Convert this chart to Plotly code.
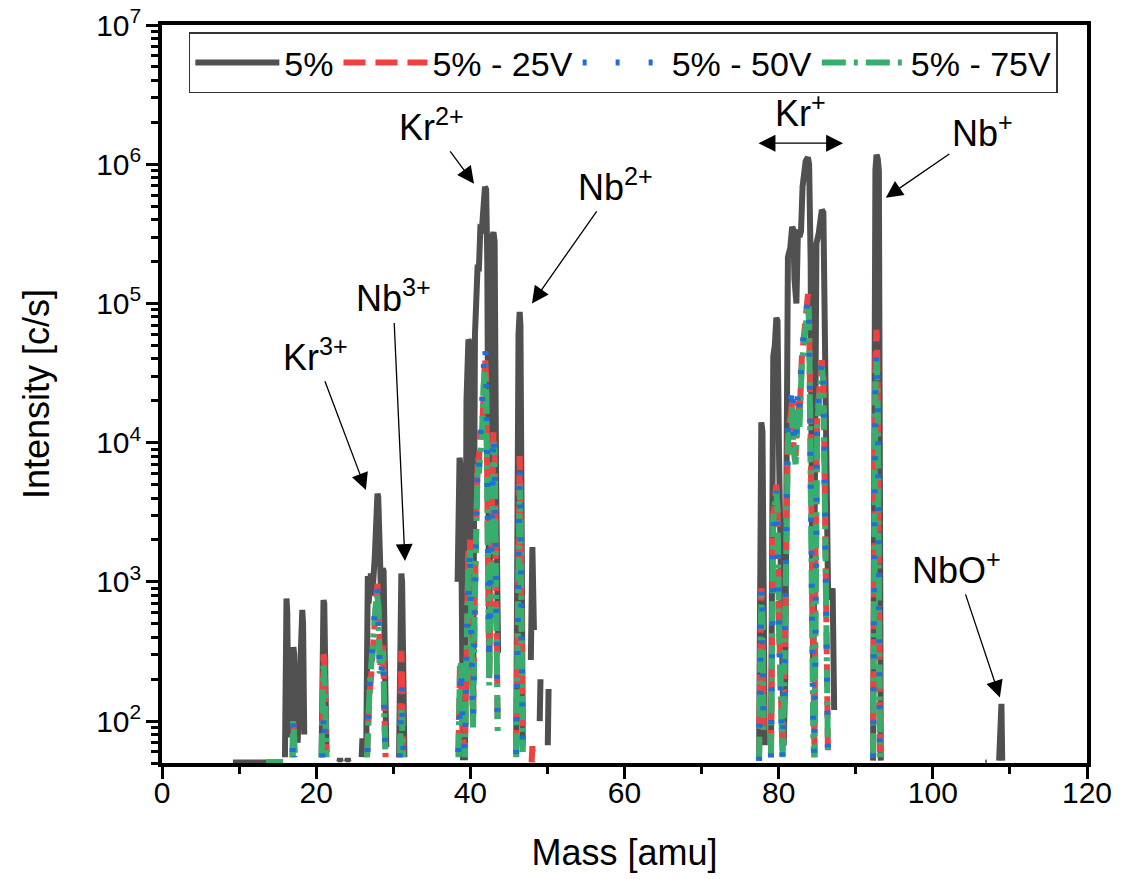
import plotly.graph_objects as go
import math

# ---------------- data ----------------
# 5 % (no bias): mass [amu] and intensity [c/s]; None = zero count (line break on log axis)
mass_5 = [9.2, 15.7, 15.75,
          15.95, 16.05, 16.15, 16.25, 16.4, 16.85, 16.95, 17.05, 17.15, 17.3, 17.6, 18.0, 18.1, 18.2, 18.3, 18.45, 18.5,
          20.7, 20.85, 20.95, 21.05, 21.2, 21.35, 21.4,
          23.0, 23.1, 23.2, 23.25, 24.0, 24.1, 24.2, 24.25,
          25.9, 26.0, 26.1, 26.5, 26.6, 26.7, 26.8, 27.0, 27.1, 27.2, 27.35, 27.6, 27.8, 27.95, 28.05, 28.2, 28.45,
          28.65, 28.75, 28.9, 29.1, 29.15,
          30.75, 30.85, 30.95, 31.05, 31.15, 31.3, 31.45, 31.5,
          38.35, 38.5, 38.6, 38.7, 38.85, 39.05, 39.3, 39.5, 39.75, 39.95, 40.1, 40.35, 40.6, 40.8, 40.95, 41.1,
          41.3, 41.5, 41.7, 41.9, 42.05, 42.2, 42.45, 42.65, 42.85, 43.0, 43.15, 43.35, 43.6, 43.65,
          45.95, 46.1, 46.25, 46.4, 46.5, 46.65, 46.8, 46.85,
          47.85, 47.95, 48.05, 48.15, 48.25, 48.3, 49.0, 49.1, 49.15, 50.05, 50.15, 50.2,
          77.45, 77.6, 77.75, 77.9, 78.05, 78.2, 78.25,
          79.0, 79.15, 79.3, 79.5, 79.7, 79.85, 80.05, 80.3, 80.5, 80.65, 80.85, 81.0, 81.2, 81.5, 81.75, 81.9,
          82.05, 82.3, 82.5, 82.7, 82.9, 83.1, 83.5, 83.8, 83.95, 84.15, 84.35, 84.5, 84.7, 84.9, 85.2, 85.6,
          85.8, 86.0, 86.2, 86.4, 86.7, 87.0, 87.2, 87.25,
          92.25, 92.4, 92.55, 92.7, 92.85, 93.0, 93.15, 93.25, 93.3,
          106.8, 107.0, 107.05,
          108.6, 108.7, 108.75, 108.9, 109.0]
int_5 = [50.5, 50.5, None,
         55, 600, 760, 600, 80, 80, 300, 340, 300, 90, 70, 300, 600, 630, 500, 80, None,
         55, 500, 740, 700, 200, 60, None,
         51, 54, 51, None, 51, 54, 51, None,
         55, 75, 60, 66, 900, 1100, 700, 1100, 1150, 800, 900, 1500, 3500, 4300, 4100, 1500, 700,
         1250, 1200, 300, 65, None,
         55, 800, 950, 1150, 1000, 150, 55, None,
         1000, 6500, 7800, 7000, 1500, 55, 55, 20000, 55000, 52000, 8000, 100, 60000, 183000, 190000, 170000,
         345000, 340000, 500000, 690000, 660000, 200000, 310, 200000, 300000, 325000, 280000, 5000, 310, None,
         67, 5000, 60000, 87000, 70000, 3000, 70, None,
         275, 1500, 1780, 900, 450, None, 100, 200, None, 67, 170, None,
         52, 6000, 14000, 12000, 1000, 67, None,
         55, 15000, 42000, 50000, 79000, 75000, 8000, 1000, 270, 67, 200, 8000, 215000, 250000, 355000, 340000,
         150000, 100000, 340000, 300000, 330000, 690000, 1050000, 1120000, 1000000, 200000, 1000, 200, 5000, 270000, 320000, 470000,
         450000, 60000, 2000, 900, 750, 900, 120, None,
         52, 700000, 910000, 1170000, 1100000, 900000, 1000, 52, None,
         50.5, 50.5, None,
         52, 100, 133, 133, 52]

# 5 % - 25 V
mass_25 = [13.5, 15.7, 15.75,
           16.95, 17.05, 17.15, 17.2,
           20.75, 20.85, 20.95, 21.05, 21.15, 21.3, 21.35,
           26.6, 26.7, 26.9, 27.1, 27.35, 27.6, 27.85, 27.95, 28.05, 28.3, 28.6, 28.7, 28.85, 29.0, 29.05,
           30.85, 30.95, 31.05, 31.15, 31.3, 31.35,
           38.45, 38.55, 38.65, 38.8, 39.0, 39.3, 39.5, 39.75, 39.95, 40.1, 40.35, 40.6, 40.8, 40.95, 41.1, 41.3,
           41.5, 41.7, 41.9, 42.05, 42.2, 42.45, 42.65, 42.85, 43.0, 43.15, 43.35, 43.55, 43.6,
           45.95, 46.1, 46.25, 46.4, 46.5, 46.65, 46.8, 46.85,
           47.95, 48.05, 48.15, 48.2,
           77.45, 77.6, 77.75, 77.9, 78.05, 78.1,
           79.0, 79.15, 79.3, 79.7, 79.85, 80.05, 80.3, 80.5, 80.7, 80.95, 81.2, 81.5, 81.75, 81.9, 82.2, 82.5,
           82.7, 83.0, 83.4, 83.8, 83.95, 84.15, 84.35, 84.5, 84.65, 84.8, 85.0, 85.3, 85.6, 85.8, 86.0, 86.2,
           86.4, 86.45,
           92.25, 92.4, 92.55, 92.7, 92.85, 93.0, 93.15, 93.2]
int_25 = [50.5, 50.5, None,
          55, 100, 60, None,
          55, 200, 300, 290, 150, 60, None,
          55, 130, 150, 200, 300, 450, 800, 970, 700, 250, 300, 350, 120, 55, None,
          55, 200, 320, 200, 60, None,
          60, 200, 250, 200, 80, 60, 400, 1800, 2000, 600, 100, 900, 6000, 8000, 7000, 12000,
          11000, 28000, 41000, 30000, 2000, 200, 1000, 8000, 12000, 9000, 800, 90, None,
          60, 600, 6000, 8000, 4000, 500, 65, None,
          50.5, 66, 50.5, None,
          52, 500, 900, 600, 90, None,
          60, 1500, 3000, 5000, 3500, 500, 100, 60, 150, 3000, 12000, 15000, 20000, 10000, 8000, 20000,
          15000, 40000, 70000, 117000, 80000, 5000, 300, 80, 55, 2000, 15000, 25000, 39000, 30000, 2000, 100,
          55, None,
          55, 5000, 40000, 65000, 30000, 1000, 60, None]

# 5 % - 50 V
mass_50 = [16.95, 17.05, 17.15, 17.2,
           20.8, 20.9, 21.0, 21.1, 21.25, 21.3,
           26.65, 26.8, 27.0, 27.3, 27.55, 27.8, 27.95, 28.05, 28.3, 28.55, 28.7, 28.85, 29.0, 29.05,
           30.85, 31.0, 31.1, 31.2, 31.35, 31.4,
           38.45, 38.55, 38.65, 38.8, 39.0, 39.3, 39.5, 39.75, 39.95, 40.1, 40.35, 40.6, 40.8, 40.95, 41.1, 41.3,
           41.5, 41.7, 41.9, 42.05, 42.2, 42.45, 42.65, 42.85, 43.0, 43.15, 43.35, 43.55, 43.6,
           45.95, 46.1, 46.25, 46.4, 46.5, 46.65, 46.8, 46.85,
           77.45, 77.6, 77.75, 77.9, 78.05, 78.1,
           79.0, 79.15, 79.3, 79.7, 79.85, 80.05, 80.3, 80.5, 80.7, 80.95, 81.2, 81.5, 81.75, 81.9, 82.2, 82.5,
           82.7, 83.0, 83.4, 83.8, 83.95, 84.15, 84.35, 84.5, 84.65, 84.8, 85.0, 85.3, 85.6, 85.8, 86.0, 86.2,
           86.4, 86.45,
           92.25, 92.4, 92.55, 92.7, 92.85, 93.0, 93.15, 93.2]
int_50 = [60, 100, 55, None,
          55, 100, 120, 90, 60, None,
          60, 150, 250, 350, 700, 900, 850, 600, 200, 250, 300, 100, 55, None,
          55, 150, 180, 100, 55, None,
          60, 150, 220, 250, 90, 60, 350, 1500, 1800, 500, 100, 800, 5000, 7500, 6500, 12000,
          15000, 35000, 52000, 35000, 2500, 250, 1200, 9000, 12000, 8000, 700, 80, None,
          58, 500, 5000, 7000, 3500, 400, 60, None,
          52, 450, 950, 550, 80, None,
          55, 1200, 2500, 4500, 3000, 450, 90, 55, 140, 3500, 14000, 18000, 27000, 12000, 9000, 25000,
          18000, 45000, 75000, 110000, 75000, 4000, 250, 70, 55, 2500, 16000, 28000, 40000, 30000, 1800, 90,
          55, None,
          55, 4000, 30000, 45000, 25000, 800, 55, None]

# 5 % - 75 V
mass_75 = [13.5, 15.7, 15.75,
           16.9, 17.0, 17.1, 17.25, 17.3,
           20.7, 20.85, 20.95, 21.05, 21.2, 21.35, 21.4,
           26.6, 26.75, 26.95, 27.2, 27.45, 27.75, 27.9, 28.05, 28.25, 28.55, 28.7, 28.85, 29.0, 29.05,
           30.85, 30.95, 31.05, 31.15, 31.3, 31.35,
           38.45, 38.55, 38.65, 38.8, 39.0, 39.3, 39.5, 39.75, 39.95, 40.1, 40.35, 40.6, 40.8, 40.95, 41.1, 41.3,
           41.5, 41.7, 41.9, 42.05, 42.2, 42.45, 42.65, 42.85, 43.0, 43.15, 43.35, 43.55, 43.6,
           45.95, 46.1, 46.25, 46.4, 46.5, 46.65, 46.8, 46.85,
           77.45, 77.6, 77.75, 77.9, 78.05, 78.1,
           79.0, 79.15, 79.3, 79.7, 79.85, 80.05, 80.3, 80.5, 80.7, 80.95, 81.2, 81.5, 81.75, 81.9, 82.2, 82.5,
           82.7, 83.0, 83.4, 83.8, 83.95, 84.15, 84.35, 84.5, 84.65, 84.8, 85.0, 85.3, 85.6, 85.8, 86.0, 86.2,
           86.4, 86.45,
           92.25, 92.4, 92.55, 92.7, 92.85, 93.0, 93.15, 93.2]
int_75 = [50.5, 50.5, None,
          55, 100, 90, 55, None,
          55, 150, 250, 230, 120, 55, None,
          55, 110, 180, 280, 400, 750, 900, 650, 220, 280, 320, 100, 55, None,
          55, 90, 120, 90, 55, None,
          55, 180, 230, 260, 90, 55, 350, 1600, 1700, 500, 90, 800, 5000, 7000, 6000, 9000,
          11000, 25000, 33000, 25000, 1800, 180, 900, 7000, 10000, 8000, 700, 80, None,
          55, 500, 4000, 5000, 3000, 400, 60, None,
          52, 400, 800, 500, 80, None,
          55, 1300, 2800, 4500, 3200, 450, 90, 55, 140, 2500, 10000, 13000, 18000, 9000, 7000, 18000,
          13000, 35000, 60000, 100000, 70000, 4000, 250, 70, 55, 1800, 13000, 22000, 35000, 27000, 1600, 90,
          55, None,
          55, 3500, 28000, 40000, 22000, 800, 55, None]

series_names = ["5%", "5% - 25V", "5% - 50V", "5% - 75V"]

# ---------------- figure ----------------
FONT = "Liberation Sans, Arial, sans-serif"
fig = go.Figure()

styles = {
    "5%": dict(color="#505050", width=6, dash="solid"),
    "5% - 25V": dict(color="#EE4242", width=6, dash="22px,10px"),
    "5% - 50V": dict(color="#1F6FD9", width=6, dash="4px,29px"),
    "5% - 75V": dict(color="#38AE6C", width=6, dash="24px,8px,4px,8px"),
}
data = {
    "5%": (mass_5, int_5),
    "5% - 25V": (mass_25, int_25),
    "5% - 50V": (mass_50, int_50),
    "5% - 75V": (mass_75, int_75),
}
draw_order = ["5%", "5% - 25V", "5% - 75V", "5% - 50V"]
for name in draw_order:
    xs, ys = data[name]
    fig.add_trace(go.Scatter(
        x=xs, y=ys, mode="lines", name=name,
        line=styles[name], connectgaps=False,
        legendrank=series_names.index(name) + 1,
    ))

def L(v):
    return math.log10(v)

ann_font = dict(family=FONT, size=36, color="black")
# (label, text x, text log10 y, arrow-head x, arrow-head log10 y)
labels = [
    ("Kr<sup>3+</sup>", 19.85, 4.63, 26.45, 3.66),
    ("Nb<sup>3+</sup>", 29.97, 5.05, 31.52, 3.15),
    ("Kr<sup>2+</sup>", 34.9, 6.28, 40.48, 5.86),
    ("Nb<sup>2+</sup>", 58.77, 5.85, 48.0, 5.0),
    ("Nb<sup>+</sup>", 106.5, 6.24, 93.9, 5.76),
    ("NbO<sup>+</sup>", 103.1, 3.10, 108.7, 2.17),
]
for txt, tx, ty, hx, hy in labels:
    fig.add_annotation(
        x=hx, y=hy, ax=tx, ay=ty, xref="x", yref="y", axref="x", ayref="y",
        text=txt, font=ann_font, showarrow=True, arrowhead=2, arrowsize=2.6,
        arrowwidth=1.3, arrowcolor="black", standoff=0, startstandoff=2,
    )
fig.add_annotation(x=82.77, y=6.38, xref="x", yref="y", text="Kr<sup>+</sup>",
                   showarrow=False, font=ann_font)
fig.add_annotation(x=88.35, y=6.151, ax=77.19, ay=6.151, xref="x", yref="y",
                   axref="x", ayref="y", text="", showarrow=True, arrowhead=2,
                   arrowside="end+start", arrowsize=2.6, arrowwidth=1.3,
                   arrowcolor="black", standoff=0, startstandoff=0)

axis_common = dict(
    showline=True, linecolor="black", linewidth=4, mirror=True,
    ticks="outside", ticklen=12, tickwidth=3, tickcolor="black",
    showgrid=False, zeroline=False, automargin=False,
)
fig.update_xaxes(
    range=[0, 120], dtick=20, tick0=0, ticklabelstandoff=-12,
    tickfont=dict(family=FONT, size=30, color="black"),
    title=dict(text="Mass [amu]", font=dict(family=FONT, size=36, color="black"), standoff=33),
    minor=dict(ticks="outside", ticklen=7, tickwidth=3, tickcolor="black", dtick=10, showgrid=False),
    **axis_common,
)
fig.update_yaxes(
    type="log", range=[L(50), 7.0002], dtick=1, exponentformat="power", showexponent="all",
    tickfont=dict(family=FONT, size=24, color="black"),
    title=dict(text="Intensity [c/s]", font=dict(family=FONT, size=36, color="black"), standoff=37),
    minor=dict(ticks="outside", ticklen=7, tickwidth=2.5, tickcolor="black", dtick="D1", showgrid=False),
    ticklabeloverflow="allow",
    **axis_common,
)
# page body has an 8 px margin: figure is placed at (8, 8) inside the 1134x879 window
fig.update_layout(
    width=1126, height=871,
    margin=dict(l=154, r=47, t=17, b=116, autoexpand=False),
    paper_bgcolor="white", plot_bgcolor="white",
    font=dict(family=FONT, color="black"),
    showlegend=True,
    legend=dict(
        orientation="h", x=0.029, y=0.99, xanchor="left", yanchor="top",
        bgcolor="white", bordercolor="#333", borderwidth=1.5,
        font=dict(family=FONT, size=34, color="black"),
        itemwidth=84, traceorder="normal",
    ),
)

fig.write_html("out.html")
